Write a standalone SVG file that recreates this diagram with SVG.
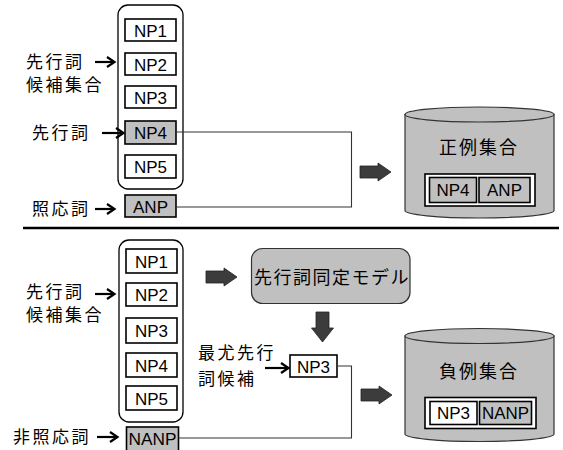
<svg xmlns="http://www.w3.org/2000/svg" width="563" height="450" viewBox="0 0 563 450">
<style>
.bg{fill:#ffffff}
.np{fill:#ffffff;stroke:#000;stroke-width:1.6}
.npg{fill:#c0c0c0;stroke:#000;stroke-width:1.6}
.grp{fill:#ffffff;stroke:#000;stroke-width:1.3}
.lt{font-family:"Liberation Sans",Arial,sans-serif;font-size:17px;fill:#000;text-anchor:middle}
.jp{font-family:"Noto Sans CJK JP","Noto Sans CJK SC",sans-serif;font-size:17px;fill:#000;letter-spacing:2.5px}
.jpl{font-family:"Noto Sans CJK JP","Noto Sans CJK SC",sans-serif;font-size:18px;fill:#000;letter-spacing:2px}
.con{fill:none;stroke:#333;stroke-width:1.1}
.arr{fill:none;stroke:#000;stroke-width:2.2}
.blk{fill:#3c3c3c;stroke:#222;stroke-width:0.8}
.cyl{fill:#c0c0c0;stroke:#333;stroke-width:1.2}
.inner{fill:#ffffff;stroke:#000;stroke-width:1.6}
</style>
<rect class="bg" x="0" y="0" width="563" height="450"/>

<!-- Top section -->
<g id="top-candidates">
<rect class="grp" x="118" y="5" width="65" height="184" rx="10"/>
</g>
<g id="top-np1"><rect class="np" x="125" y="19" width="51" height="22"/><text class="lt" x="150.5" y="36.5">NP1</text></g>
<g id="top-np2"><rect class="np" x="125" y="53" width="51" height="22"/><text class="lt" x="150.5" y="70.5">NP2</text></g>
<g id="top-np3"><rect class="np" x="125" y="86" width="51" height="22"/><text class="lt" x="150.5" y="103.5">NP3</text></g>
<g id="top-np4"><rect class="npg" x="125" y="121" width="51" height="23"/><text class="lt" x="150.5" y="139">NP4</text></g>
<g id="top-np5"><rect class="np" x="125" y="155" width="51" height="23"/><text class="lt" x="150.5" y="173">NP5</text></g>
<g id="top-anp"><rect class="npg" x="125" y="195" width="51" height="22"/><text class="lt" x="150.5" y="212.5">ANP</text></g>

<g id="top-labels">
<text class="jp" x="26" y="68">先行詞</text>
<text class="jp" x="26" y="91">候補集合</text>
<text class="jp" x="32" y="139">先行詞</text>
<text class="jp" x="32" y="215">照応詞</text>
</g>

<g id="top-pos-db">
<path class="cyl" d="M405,114.5 V210.5 A74.5,7.5 0 0 0 554,210.5 V114.5 Z"/>
<ellipse class="cyl" cx="479.5" cy="114.5" rx="74.5" ry="7.5"/>
<text class="jpl" x="439" y="154">正例集合</text>
<rect class="inner" x="425" y="174" width="110" height="32"/>
<rect class="npg" x="429.5" y="177.5" width="47" height="25"/>
<text class="lt" x="453" y="196">NP4</text>
<rect class="npg" x="479" y="177.5" width="51" height="25"/>
<text class="lt" x="504.5" y="196">ANP</text>
</g>

<line x1="23" y1="228" x2="559" y2="228" stroke="#000" stroke-width="2.6"/>

<!-- Bottom section -->
<g id="bot-candidates">
<rect class="grp" x="119" y="240" width="64" height="182" rx="10"/>
</g>
<g id="bot-np1"><rect class="np" x="126" y="249" width="51" height="24"/><text class="lt" x="151.5" y="267.5">NP1</text></g>
<g id="bot-np2"><rect class="np" x="126" y="283" width="51" height="23"/><text class="lt" x="151.5" y="301">NP2</text></g>
<g id="bot-np3"><rect class="np" x="126" y="318" width="51" height="25"/><text class="lt" x="151.5" y="337">NP3</text></g>
<g id="bot-np4"><rect class="np" x="126" y="353" width="51" height="24"/><text class="lt" x="151.5" y="371.5">NP4</text></g>
<g id="bot-np5"><rect class="np" x="126" y="386" width="51" height="24"/><text class="lt" x="151.5" y="404.5">NP5</text></g>
<g id="bot-nanp"><rect class="npg" x="126.5" y="427" width="52" height="24"/><text class="lt" x="152.5" y="445" textLength="48" lengthAdjust="spacingAndGlyphs">NANP</text></g>

<g id="bot-labels">
<text class="jp" x="26" y="298">先行詞</text>
<text class="jp" x="26" y="321">候補集合</text>
<text class="jp" x="13" y="443">非照応詞</text>
<text class="jp" x="198" y="359">最尤先行</text>
<text class="jp" x="198" y="385">詞候補</text>
</g>

<g id="model">
<rect x="251.5" y="248.5" width="158.5" height="55" rx="11" fill="#c0c0c0" stroke="#333" stroke-width="1.2"/>
<text class="jpl" x="254" y="284" style="letter-spacing:1.5px">先行詞同定モデル</text>
</g>

<g id="best-np3">
<rect class="np" x="290" y="355" width="47" height="22"/>
<text class="lt" x="313.5" y="372.5">NP3</text>
</g>

<g id="bot-neg-db">
<path class="cyl" d="M405,336 V434 A74.5,7.5 0 0 0 554,434 V336 Z"/>
<ellipse class="cyl" cx="479.5" cy="336" rx="74.5" ry="7.5"/>
<text class="jpl" x="439" y="378">負例集合</text>
<rect class="inner" x="425" y="397.5" width="111" height="31"/>
<rect class="np" x="430" y="401.5" width="47" height="23"/>
<text class="lt" x="453.5" y="419">NP3</text>
<rect class="npg" x="479.5" y="401.5" width="52" height="23"/>
<text class="lt" x="505.5" y="419" textLength="47" lengthAdjust="spacingAndGlyphs">NANP</text>
</g>

<!-- Connectors -->
<g id="connectors">
<polyline class="con" points="176,132 351.5,132 351.5,207 176,207"/>
<polyline class="con" points="337,366 351.5,366 351.5,438 178.5,438"/>
<line class="arr" x1="95" y1="62" x2="114" y2="62"/><polyline class="arr" points="107,57 114.5,62 107,67"/>
<line class="arr" x1="102" y1="133" x2="123" y2="133"/><polyline class="arr" points="116,128 123.5,133 116,138"/>
<line class="arr" x1="95" y1="209" x2="114" y2="209"/><polyline class="arr" points="107,204 114.5,209 107,214"/>
<line class="arr" x1="95" y1="294" x2="114" y2="294"/><polyline class="arr" points="107,289 114.5,294 107,299"/>
<line class="arr" x1="97" y1="437" x2="117" y2="437"/><polyline class="arr" points="110,432 117.5,437 110,442"/>
<line class="arr" x1="265" y1="368" x2="288" y2="368"/><polyline class="arr" points="281,363 288.5,368 281,373"/>
<polygon class="blk" points="360,166 378,166 378,163 391,172 378,181 378,178 360,178"/>
<polygon class="blk" points="206,271 224,271 224,268 237,277 224,286 224,283 206,283"/>
<polygon class="blk" points="361,389 379,389 379,386 392,395 379,404 379,401 361,401"/>
<polygon class="blk" points="316,312 329,312 329,328 333.5,328 322.5,342 311.5,328 316,328"/>
</g>
</svg>
